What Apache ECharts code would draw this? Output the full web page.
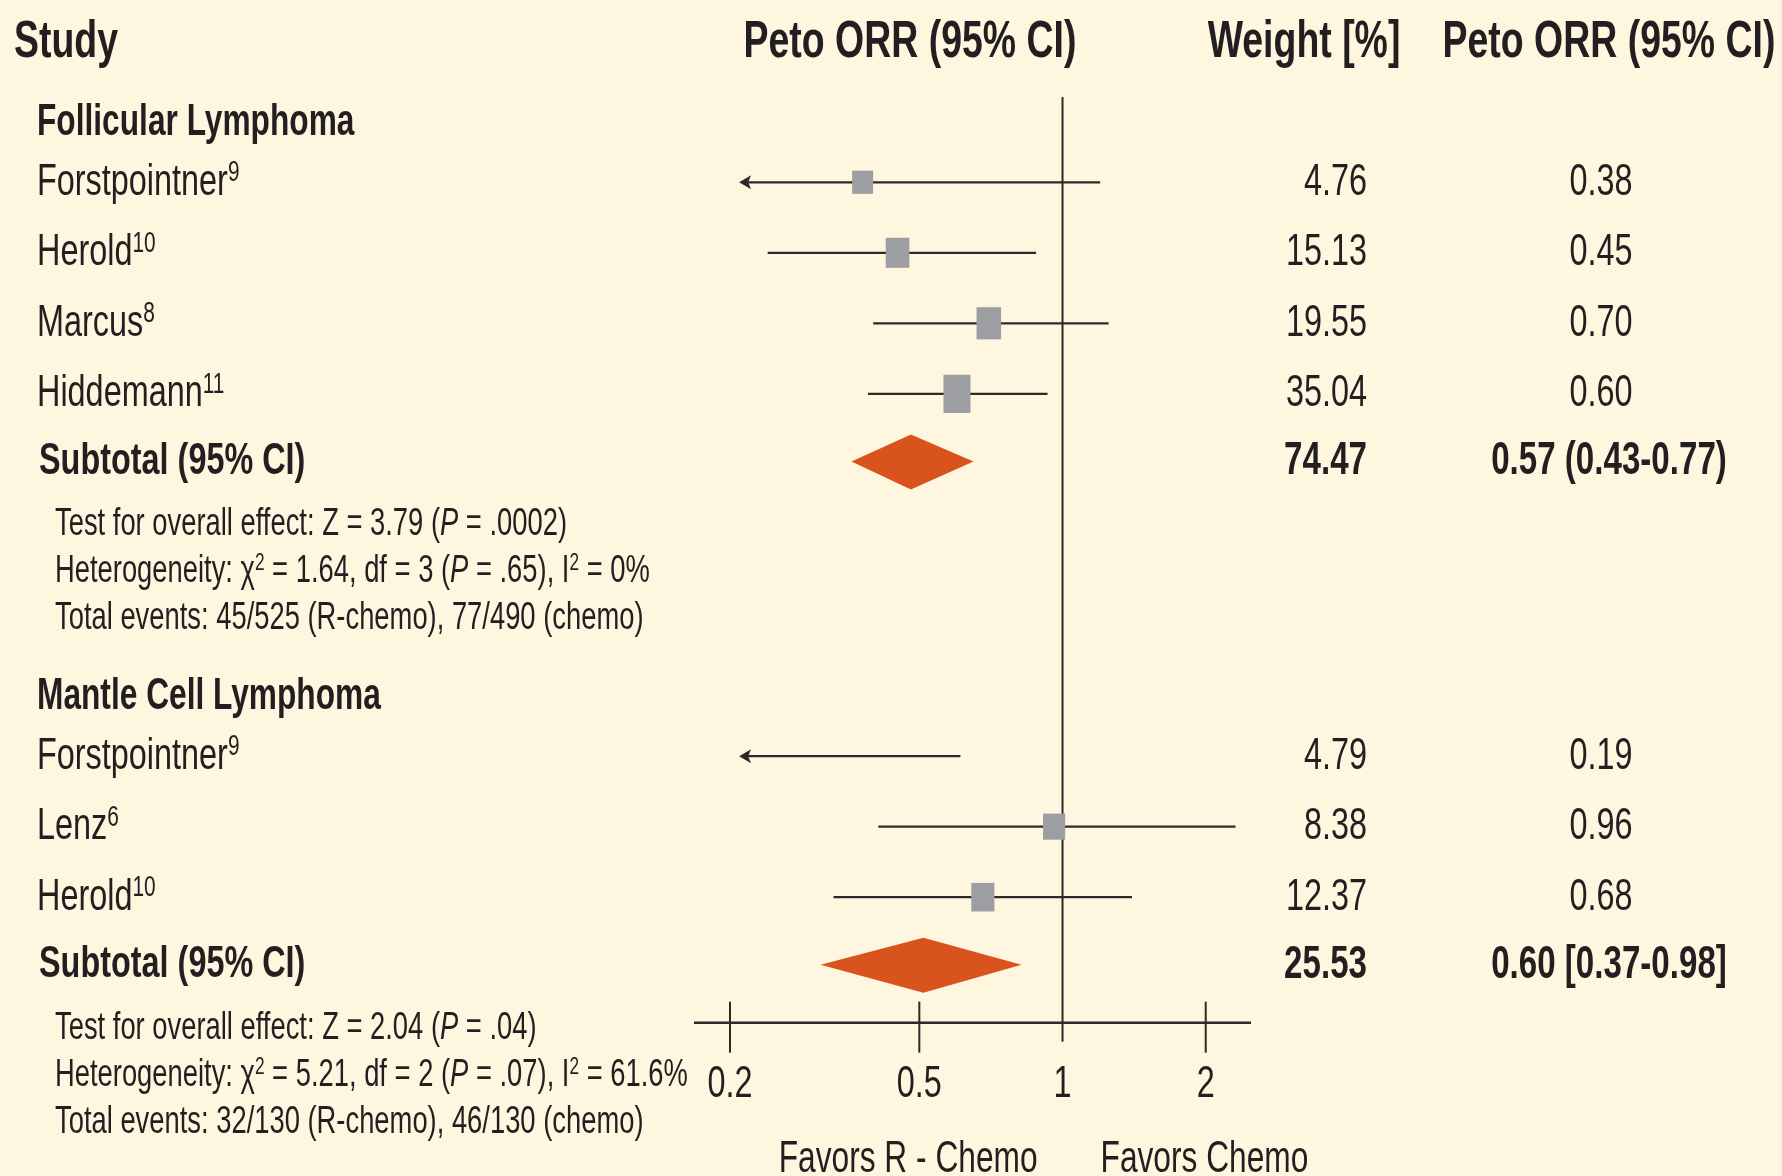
<!DOCTYPE html>
<html><head><meta charset="utf-8">
<script src="https://cdn.jsdelivr.net/npm/echarts@6/dist/echarts.min.js"></script>
<style>html,body{margin:0;padding:0;background:#fef6df}#c{width:1782px;height:1176px}</style>
</head><body><div id="c"></div>
<script>
// ---------------- data ----------------
const columnHeaders = ['Study', 'Peto ORR (95% CI)', 'Weight [%]', 'Peto ORR (95% CI)'];
const groupNames = ['Follicular Lymphoma', 'Mantle Cell Lymphoma'];
const studyGroup = [0, 0, 0, 0, 1, 1, 1];
const studyNames = ['Forstpointner', 'Herold', 'Marcus', 'Hiddemann', 'Forstpointner', 'Lenz', 'Herold'];
const studyRefs = ['9', '10', '8', '11', '9', '6', '10'];
const studyWeights = [4.76, 15.13, 19.55, 35.04, 4.79, 8.38, 12.37];
const studyOrr = [0.38, 0.45, 0.70, 0.60, 0.19, 0.96, 0.68];
const studyLow = [0.12, 0.24, 0.40, 0.39, 0.06, 0.41, 0.33];
const studyHigh = [1.20, 0.88, 1.25, 0.93, 0.61, 2.31, 1.40];
const subtotalLabel = 'Subtotal (95% CI)';
const subtotalWeights = [74.47, 25.53];
const subtotalOrrText = ['0.57 (0.43-0.77)', '0.60 [0.37-0.98]'];
const subtotalEst = [0.48, 0.51];   // diamond as drawn in the figure
const subtotalLow = [0.36, 0.31];
const subtotalHigh = [0.65, 0.82];
const statsLines = [
  ['Test for overall effect: Z = 3.79 (*P* = .0002)',
   'Heterogeneity: χ^2 = 1.64, df = 3 (*P* = .65), I^2 = 0%',
   'Total events: 45/525 (R-chemo), 77/490 (chemo)'],
  ['Test for overall effect: Z = 2.04 (*P* = .04)',
   'Heterogeneity: χ^2 = 5.21, df = 2 (*P* = .07), I^2 = 61.6%',
   'Total events: 32/130 (R-chemo), 46/130 (chemo)']
];
const tickLabels = [0.2, 0.5, 1, 2];
const tickMarks = [0.2, 0.5, 2];
const favorsLabels = ['Favors R - Chemo', 'Favors Chemo'];
const nullValue = 1;

// ---------------- layout / style ----------------
const FONT = '"Liberation Sans", Arial, sans-serif';
const SX = 0.72; // horizontal squeeze to mimic the condensed face
const TXT = '#231f20', LINE = '#2a2a2a', BOX = '#9d9ea2', DIAMOND = '#d9531d';
const X_MIN = 0.168, X_MAX = 2.49, CLIP_LOW = 0.21;
const COL = { study: 14, group: 37, name: 37, subtotal: 39, stats: 55, plotHead: 910, weight: 1367, orr: 1601, weightHead: 1304, orrHead: 1609 };

// rows (in row units on a hidden value axis)
const rows = [];
let yy = 0.54;
groupNames.forEach((g, gi) => {
  if (gi > 0) yy += 1.11;
  rows.push({ kind: 'group', y: yy, g: gi });
  let first = true;
  studyNames.forEach((n, i) => {
    if (studyGroup[i] !== gi) return;
    yy += first ? 0.84 : 1.0; first = false;
    rows.push({ kind: 'study', y: yy, i });
  });
  yy += 0.96; rows.push({ kind: 'subtotal', y: yy, g: gi });
  statsLines[gi].forEach((s, k) => { yy += k === 0 ? 0.9 : 0.665; rows.push({ kind: 'stats', y: yy, g: gi, k }); });
});
const lastSub = rows.filter(r => r.kind === 'subtotal').pop().y;
const axisRow = lastSub + 0.82;
const firstRow = rows[0].y;

function richStyles(size, weight) {
  return {
    n: { fontSize: size, fontFamily: FONT, fontWeight: weight, fill: TXT, lineHeight: size * 1.05 },
    s: { fontSize: Math.round(size * 0.64), fontFamily: FONT, fontWeight: weight, fill: TXT, verticalAlign: 'top', lineHeight: size * 0.7 },
    i: { fontSize: size, fontFamily: FONT, fontWeight: weight, fontStyle: 'italic', fill: TXT, lineHeight: size * 1.05 }
  };
}
function toRich(s) {
  let out = '', buf = '';
  const flush = () => { if (buf) { out += '{n|' + buf + '}'; buf = ''; } };
  for (let i = 0; i < s.length; i++) {
    const c = s[i];
    if (c === '^') { flush(); out += '{s|' + s[i + 1] + '}'; i++; }
    else if (c === '*') { flush(); const j = s.indexOf('*', i + 1); out += '{i|' + s.slice(i + 1, j) + '}'; i = j; }
    else buf += c;
  }
  flush();
  return out;
}
function txt(text, x, y, size, weight, align, rich) {
  const st = { text, x: 0, y: 0, textAlign: align || 'left', textVerticalAlign: 'middle',
    fontSize: size, fontFamily: FONT, fontWeight: weight || 'normal', fill: TXT };
  if (rich) st.rich = richStyles(size, weight || 'normal');
  return { type: 'text', x, y, scaleX: SX, scaleY: 1, style: st, silent: true };
}

function renderRow(params, api) {
  const r = rows[api.value(2)];
  const yc = api.coord([1, r.y])[1];
  const ch = [];
  if (r.kind === 'group') {
    ch.push(txt(groupNames[r.g], COL.group, yc, 44, 'bold'));
  } else if (r.kind === 'study') {
    const i = r.i;
    ch.push(txt('{n|' + studyNames[i] + '}{s|' + studyRefs[i] + '}', COL.name, yc, 45, 'normal', 'left', true));
    ch.push(txt(studyWeights[i].toFixed(2), COL.weight, yc, 45, 'normal', 'right'));
    ch.push(txt(studyOrr[i].toFixed(2), COL.orr, yc, 45, 'normal', 'center'));
    const clipped = studyLow[i] < CLIP_LOW;
    const xl = api.coord([clipped ? CLIP_LOW : studyLow[i], r.y])[0];
    const xh = api.coord([studyHigh[i], r.y])[0];
    ch.push({ type: 'line', shape: { x1: clipped ? xl + 6 : xl, y1: yc, x2: xh, y2: yc }, style: { stroke: LINE, lineWidth: 2.2 } });
    if (clipped) ch.push({ type: 'polygon', shape: { points: [[xl - 1, yc], [xl + 11, yc - 7], [xl + 8, yc], [xl + 11, yc + 7]] }, style: { fill: LINE } });
    if (studyOrr[i] >= CLIP_LOW) {
      const xo = api.coord([studyOrr[i], r.y])[0];
      const sq = Math.sqrt(studyWeights[i]);
      const w = 17.5 + 1.6 * sq, h = 14.5 + 4 * sq;
      ch.push({ type: 'rect', shape: { x: xo - w / 2, y: yc - h / 2, width: w, height: h }, style: { fill: BOX } });
    }
  } else if (r.kind === 'subtotal') {
    const g = r.g;
    ch.push(txt(subtotalLabel, COL.subtotal, yc, 45, 'bold'));
    ch.push(txt(subtotalWeights[g].toFixed(2), COL.weight, yc, 46, 'bold', 'right'));
    ch.push(txt(subtotalOrrText[g], COL.orrHead, yc, 46, 'bold', 'center'));
    const xl = api.coord([subtotalLow[g], r.y])[0];
    const xe = api.coord([subtotalEst[g], r.y])[0];
    const xh = api.coord([subtotalHigh[g], r.y])[0];
    ch.push({ type: 'polygon', shape: { points: [[xl, yc], [xe, yc - 27], [xh, yc], [xe, yc + 28]] }, style: { fill: DIAMOND } });
  } else if (r.kind === 'stats') {
    ch.push(txt(toRich(statsLines[r.g][r.k]), COL.stats, yc, 38, 'normal', 'left', true));
  }
  return { type: 'group', children: ch };
}

function renderFrame(params, api) {
  const ch = [];
  const ya = api.coord([1, axisRow])[1];
  const yHead = api.coord([1, -0.6])[1];
  const yTop = api.coord([1, firstRow - 0.37])[1];
  const xNull = api.coord([nullValue, axisRow])[0];
  const xa0 = api.coord([X_MIN, axisRow])[0], xa1 = api.coord([X_MAX, axisRow])[0];
  // headers
  ch.push(txt(columnHeaders[0], COL.study, yHead, 52, 'bold', 'left'));
  ch.push(txt(columnHeaders[1], COL.plotHead, yHead, 52, 'bold', 'center'));
  ch.push(txt(columnHeaders[2], COL.weightHead, yHead, 52, 'bold', 'center'));
  ch.push(txt(columnHeaders[3], COL.orrHead, yHead, 52, 'bold', 'center'));
  // reference line
  ch.push({ type: 'line', shape: { x1: xNull, y1: yTop, x2: xNull, y2: ya + 19 }, style: { stroke: LINE, lineWidth: 2 } });
  // axis
  ch.push({ type: 'line', shape: { x1: xa0, y1: ya, x2: xa1, y2: ya }, style: { stroke: LINE, lineWidth: 2.5 } });
  tickMarks.forEach(v => {
    const x = api.coord([v, axisRow])[0];
    ch.push({ type: 'line', shape: { x1: x, y1: ya - 21, x2: x, y2: ya + 30 }, style: { stroke: LINE, lineWidth: 2 } });
  });
  tickLabels.forEach(v => {
    const x = api.coord([v, axisRow])[0];
    ch.push(txt(String(v), x, ya + 62, 45, 'normal', 'center'));
  });
  ch.push(txt(favorsLabels[0], xNull - 25, ya + 137, 44, 'normal', 'right'));
  ch.push(txt(favorsLabels[1], xNull + 38, ya + 137, 44, 'normal', 'left'));
  return { type: 'group', children: ch };
}

const chart = echarts.init(document.getElementById('c'), null, { renderer: 'canvas' });
chart.setOption({
  backgroundColor: '#fef6df',
  animation: false,
  grid: { left: 694, right: 531, top: 85, bottom: 33.5 },
  xAxis: { type: 'log', min: X_MIN, max: X_MAX, show: false },
  yAxis: { type: 'value', min: 0, max: 15, inverse: true, show: false },
  series: [
    { type: 'custom', clip: false, renderItem: renderFrame, data: [[1, axisRow, 0]], encode: { x: 0, y: 1 }, silent: true },
    { type: 'custom', clip: false, renderItem: renderRow, data: rows.map((r, i) => [1, r.y, i]), encode: { x: 0, y: 1 }, silent: true }
  ]
});
</script>
</body></html>
